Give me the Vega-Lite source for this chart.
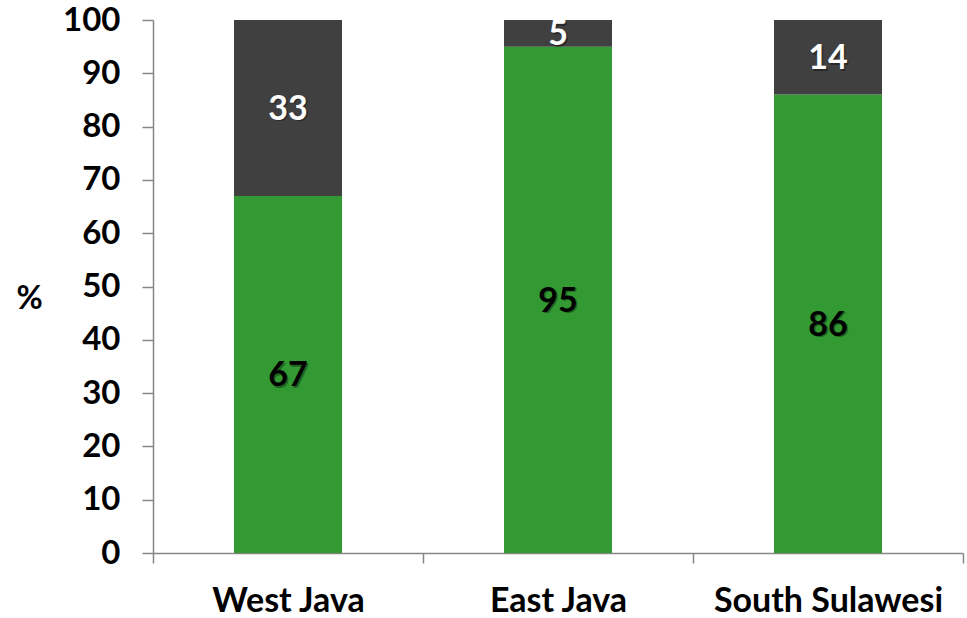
{
  "$schema": "https://vega.github.io/schema/vega-lite/v6.json",
  "autosize": "none",
  "width": 810,
  "height": 533,
  "padding": {"left": 153, "top": 20, "right": 4, "bottom": 65},
  "background": "white",
  "config": {"view": {"stroke": null}},
  "data": {
    "values": [
      {"region": "West Java", "series": "Yes", "value": 67, "ord": 1},
      {"region": "West Java", "series": "No", "value": 33, "ord": 2},
      {"region": "East Java", "series": "Yes", "value": 95, "ord": 1},
      {"region": "East Java", "series": "No", "value": 5, "ord": 2},
      {"region": "South Sulawesi", "series": "Yes", "value": 86, "ord": 1},
      {"region": "South Sulawesi", "series": "No", "value": 14, "ord": 2}
    ]
  },
  "encoding": {
    "x": {
      "field": "region", "type": "nominal", "sort": null,
      "scale": {"paddingInner": 0, "paddingOuter": 0},
      "axis": {
        "title": null, "labelAngle": 0, "tickBand": "extent", "labelLimit": 0,
        "domainColor": "#868686", "tickColor": "#868686", "tickSize": 10, "domainWidth": 1.5, "tickWidth": 1.5,
        "labelFont": "Lato", "labelFontWeight": "bold", "labelFontSize": 34, "labelColor": "black",
        "labelPadding": 21
      }
    },
    "y": {
      "field": "value", "type": "quantitative", "stack": "zero",
      "scale": {"domain": [0, 100], "nice": false},
      "axis": {
        "title": "%", "titleAngle": 0, "titleFont": "Lato", "titleFontWeight": "bold", "titleFontSize": 32,
        "titleColor": "black", "titleX": -124, "titleY": 278, "titleAlign": "center", "titleBaseline": "middle",
        "values": [0,10,20,30,40,50,60,70,80,90,100], "grid": false,
        "domainColor": "#868686", "tickColor": "#868686", "tickSize": 11, "domainWidth": 1.5, "tickWidth": 1.5,
        "labelFont": "Lato", "labelFontWeight": "bold", "labelFontSize": 33, "labelColor": "black",
        "labelPadding": 22
      }
    },
    "order": {"field": "ord", "type": "quantitative"}
  },
  "layer": [
    {
      "mark": {"type": "bar", "width": {"band": 0.4}},
      "encoding": {
        "color": {
          "field": "series", "type": "nominal", "legend": null,
          "scale": {"domain": ["Yes", "No"], "range": ["#339933", "#404040"]}
        }
      }
    },
    {
      "mark": {"type": "text", "font": "Lato", "fontWeight": "bold", "fontSize": 34, "baseline": "middle", "align": "center", "dx": 1.5, "dy": 3.5, "color": "#000000", "opacity": 0.35},
      "encoding": {
        "y": {"field": "value", "type": "quantitative", "stack": "zero", "bandPosition": 0.5},
        "text": {"field": "value", "type": "quantitative"}
      }
    },
    {
      "mark": {"type": "text", "font": "Lato", "fontWeight": "bold", "fontSize": 34, "baseline": "middle", "align": "center", "dy": 2},
      "encoding": {
        "y": {"field": "value", "type": "quantitative", "stack": "zero", "bandPosition": 0.5},
        "text": {"field": "value", "type": "quantitative"},
        "color": {"condition": {"test": "datum.series === 'No'", "value": "white"}, "value": "black"}
      }
    }
  ]
}
